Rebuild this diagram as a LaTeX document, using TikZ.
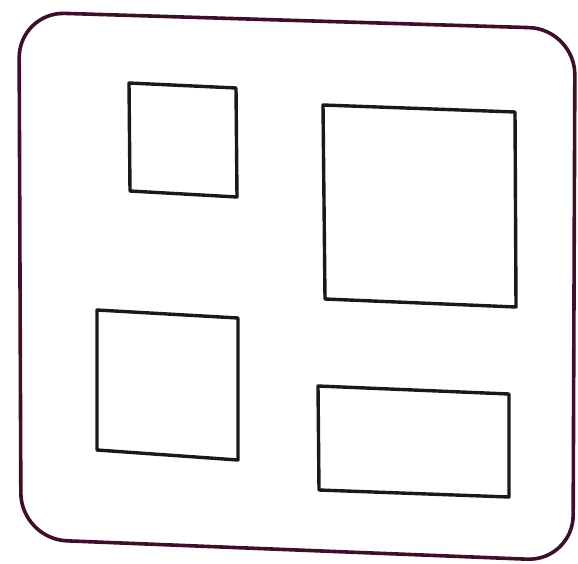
\documentclass[tikz,border=0pt]{standalone}
\usetikzlibrary{calc}
\definecolor{frame}{RGB}{62,14,42}

\begin{document}
\begin{tikzpicture}[x=1pt,y=-1pt, box/.style={draw=black!90, line width=3.4pt, line join=round}, outer/.style={draw=frame, line width=3.6pt, rounded corners=46pt}]
\useasboundingbox (0,0) rectangle (578,563);
\draw[outer] (19,12) -- (575,29) -- (573,561) -- (21,539) -- cycle;
% four boxes, slightly skewed like the scan
\draw[box] (129,83) -- (236,88) -- (237,197) -- (130,191) -- cycle;
\draw[box] (323,105) -- (515,112) -- (516,307) -- (325,299) -- cycle;
\draw[box] (97,310) -- (238,318) -- (238,460) -- (97,450) -- cycle;
\draw[box] (318,386) -- (509,394) -- (509,497) -- (319,490) -- cycle;
\end{tikzpicture}
\end{document}
